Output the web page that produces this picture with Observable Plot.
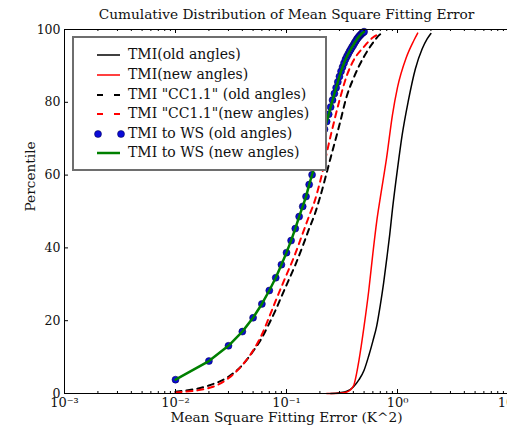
<!DOCTYPE html>
<html><head><meta charset="utf-8">
<script src="https://cdn.jsdelivr.net/npm/d3@7"></script>
<script src="https://cdn.jsdelivr.net/npm/@observablehq/plot@0.6"></script>
<style>
body{margin:0;background:#fff;}
#wrap{position:relative;width:507px;height:428px;overflow:hidden;font-family:"DejaVu Serif","Liberation Serif",serif;}
#legend{position:absolute;left:72px;top:36px;width:251px;height:131px;border:2px solid #6e6e6e;background:#fff;font-family:"DejaVu Serif","Liberation Serif",serif;font-size:14px;color:#111;}
.row{position:absolute;left:0;height:20px;}
.row svg{position:absolute;left:20px;top:0;}
.row span{position:absolute;left:54px;white-space:nowrap;line-height:20px;top:-1px;}
</style></head>
<body><div id="wrap"><div id="legend"></div></div>
<script>
// ---------- data ----------
const title = "Cumulative Distribution of Mean Square Fitting Error";
const xLabel = "Mean Square Fitting Error (K^2)";
const yLabel = "Percentile";
const xTicks = [0.001, 0.01, 0.1, 1, 10];
const xTickLabels = ["10\u207B\u00B3", "10\u207B\u00B2", "10\u207B\u00B9", "10\u2070", "10\u00B9"];
const xMinorTicks = [0.002,0.003,0.004,0.005,0.006,0.007,0.008,0.009,
  0.02,0.03,0.04,0.05,0.06,0.07,0.08,0.09,
  0.2,0.3,0.4,0.5,0.6,0.7,0.8,0.9,
  2,3,4,5,6,7,8,9];
const yTicks = [0, 20, 40, 60, 80, 100];

// TMI (old angles) - black solid
const oldX = [0.25,0.30,0.35,0.40,0.45,0.50,0.55,0.60,0.65,0.70,0.75,0.80,0.85,0.90,1.0,1.1,1.25,1.45,1.67,1.85,2.0];
const oldY = [0.0,0.2,0.6,1.8,3.8,6.4,10.3,14.4,18.6,24.3,30.4,37.0,43.5,50.5,61.7,70.9,80.3,89.2,94.7,97.4,98.9];
// TMI (new angles) - red solid
const newX = [0.23,0.30,0.35,0.40,0.45,0.50,0.55,0.60,0.65,0.70,0.80,0.90,1.0,1.2,1.4,1.52];
const newY = [0.0,0.1,0.4,2.0,9.2,18.5,28.1,38.5,47.3,53.8,65.0,76.5,84.1,92.3,96.9,99.0];
// TMI "CC1.1" (old angles) - black dashed
const ccOldX = [0.01,0.02,0.03,0.04,0.05,0.06,0.07,0.08,0.09,0.10,0.12,0.14,0.16,0.18,0.20,0.25,0.30,0.35,0.40,0.50,0.60,0.70,0.73];
const ccOldY = [0.5,2.2,4.6,7.8,11.6,15.3,19.3,23.0,26.6,29.8,35.3,40.5,45.3,49.3,53.8,64.8,73.8,81.8,86.5,92.6,96.3,98.7,99.0];
// TMI "CC1.1" (new angles) - red dashed
const ccNewX = [0.01,0.02,0.03,0.04,0.05,0.06,0.07,0.08,0.09,0.10,0.12,0.14,0.16,0.18,0.20,0.25,0.30,0.35,0.40,0.50,0.60,0.70];
const ccNewY = [0.3,1.5,4.2,7.8,11.8,16.2,21.1,25.5,29.3,32.6,38.4,44.0,48.8,53.0,58.0,70.8,80.5,87.4,91.4,95.3,97.8,98.9];
// TMI to WS (old = dots, new = green line)
const wsX = [0.01,0.02,0.03,0.04,0.05,0.06,0.07,0.08,0.09,0.10,
  0.11,0.12,0.13,0.14,0.15,0.16,0.17,0.18,0.19,0.20,
  0.21,0.22,0.23,0.24,0.25,0.26,0.27,0.28,0.29,0.30,
  0.31,0.32,0.33,0.34,0.35,0.36,0.37,0.38,0.39,0.40,
  0.41,0.42,0.43,0.44,0.45,0.46,0.47,0.48,0.49,0.50];
const wsOldY = [3.8,8.9,13.1,17.0,20.8,24.6,28.3,31.8,35.4,38.7,
  42.0,45.3,48.6,51.4,54.1,57.4,60.1,62.8,65.4,67.9,
  70.3,72.6,74.7,76.7,78.7,80.6,82.4,84.0,85.6,87.1,
  88.5,89.7,90.8,91.8,92.6,93.3,94.0,94.6,95.2,95.7,
  96.3,96.8,97.3,97.7,98.1,98.4,98.7,99.0,99.2,99.4];
const wsNewY = wsOldY.slice();

const seriesNames = ["TMI(old angles)", "TMI(new angles)", "TMI \"CC1.1\" (old angles)", "TMI \"CC1.1\"(new angles)", "TMI to WS (old angles)", "TMI to WS (new angles)"];

// ---------- build ----------
const toRows = (xs, ys) => xs.map((x, i) => ({x, y: ys[i]}));
const fmt = d => xTickLabels[xTicks.indexOf(d)];
const serif = "DejaVu Serif, Liberation Serif, serif";

const chart = Plot.plot({
  width: 507, height: 428,
  marginLeft: 64, marginRight: -1, marginTop: 29, marginBottom: 35,
  style: {fontFamily: serif, fontSize: "12.5px", background: "white", overflow: "visible"},
  x: {type: "log", domain: [0.001, 10]},
  y: {domain: [0, 100]},
  marks: [
    Plot.line(toRows(oldX, oldY), {x: "x", y: "y", stroke: "#000", strokeWidth: 1.5, curve: "monotone-x"}),
    Plot.line(toRows(newX, newY), {x: "x", y: "y", stroke: "#ff0000", strokeWidth: 1.5, curve: "monotone-x"}),
    Plot.line(toRows(ccOldX, ccOldY), {x: "x", y: "y", stroke: "#000", strokeWidth: 2, strokeDasharray: "6,5", curve: "monotone-x"}),
    Plot.line(toRows(ccNewX, ccNewY), {x: "x", y: "y", stroke: "#ff0000", strokeWidth: 2, strokeDasharray: "6,5", curve: "monotone-x"}),
    Plot.dot(toRows(wsX, wsOldY), {x: "x", y: "y", r: 3.5, fill: "#0a0ad8", stroke: "#000040", strokeWidth: 0.5}),
    Plot.line(toRows(wsX, wsNewY), {x: "x", y: "y", stroke: "#008000", strokeWidth: 2.5}),
    Plot.frame({stroke: "#000", strokeWidth: 1}),
    Plot.tickX(xTicks, {x: d => d, insetTop: 360, stroke: "#000"}),
    Plot.tickX(xTicks, {x: d => d, insetBottom: 360, stroke: "#000"}),
    Plot.tickX(xMinorTicks, {x: d => d, insetTop: 362, stroke: "#000"}),
    Plot.tickX(xMinorTicks, {x: d => d, insetBottom: 362, stroke: "#000"}),
    Plot.tickY(yTicks, {y: d => d, insetRight: 440, stroke: "#000"}),
    Plot.axisX({ticks: xTicks, tickSize: 0, tickPadding: 4, tickFormat: fmt, label: null, fontSize: 13, fontFamily: serif, fill: "#111"}),
    Plot.axisY({ticks: yTicks, tickSize: 0, tickPadding: 4, label: null, fontSize: 12.5, fontFamily: serif, fill: "#111"}),
    Plot.text([title], {frameAnchor: "top", dy: -15, fontSize: 13.7, fontFamily: serif, fill: "#111", lineAnchor: "middle"}),
    Plot.text([xLabel], {frameAnchor: "bottom", dy: 24, fontSize: 13.7, fontFamily: serif, fill: "#111", lineAnchor: "middle"}),
    Plot.text([yLabel], {frameAnchor: "left", dx: -34, rotate: -90, fontSize: 13.7, fontFamily: serif, fill: "#111", lineAnchor: "middle"})
  ]
});
document.getElementById("wrap").prepend(chart);

// legend
const legendStyles = [
  {stroke: "#000", w: 1.5, dash: null, dots: false},
  {stroke: "#ff0000", w: 1.5, dash: null, dots: false},
  {stroke: "#000", w: 2, dash: "6,11", dots: false},
  {stroke: "#ff0000", w: 2, dash: "6,11", dots: false},
  {stroke: "#0a0ad8", w: 0, dash: null, dots: true},
  {stroke: "#008000", w: 2.5, dash: null, dots: false}
];
const leg = document.getElementById("legend");
const rowTops = [7, 27, 47, 66, 86, 105];
seriesNames.forEach((name, i) => {
  const s = legendStyles[i];
  const row = document.createElement("div");
  row.className = "row";
  row.style.top = rowTops[i] + "px";
  let inner;
  if (s.dots) {
    inner = `<circle cx="4" cy="10" r="3.5" fill="#0a0ad8" stroke="#000040" stroke-width="0.5"/><circle cx="27" cy="10" r="3.5" fill="#0a0ad8" stroke="#000040" stroke-width="0.5"/>`;
  } else {
    inner = `<line x1="3" x2="26" y1="10" y2="10" stroke="${s.stroke}" stroke-width="${s.w}" ${s.dash ? `stroke-dasharray="${s.dash}"` : ""}/>`;
  }
  row.innerHTML = `<svg width="32" height="20">${inner}</svg><span>${name.replace(/"/g, "&quot;")}</span>`;
  leg.appendChild(row);
});
</script></body></html>
